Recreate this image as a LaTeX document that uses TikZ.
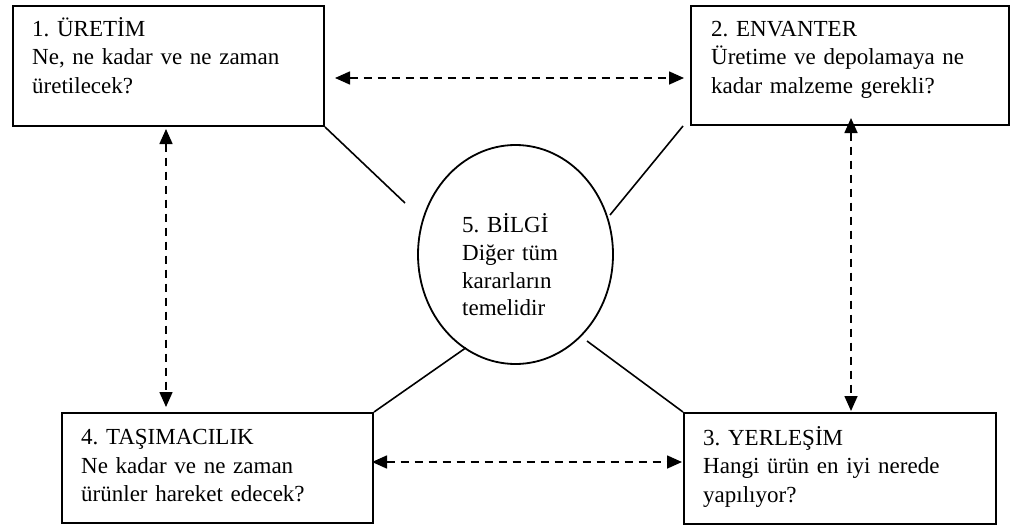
\documentclass[tikz,border=0pt]{standalone}
\usepackage{fontspec}
\setmainfont{Liberation Serif}
\usetikzlibrary{shapes.geometric,arrows.meta}

\begin{document}
\frenchspacing
\begin{tikzpicture}[x=1pt,y=-1pt,
  box/.style={draw, line width=2pt, inner sep=0pt, rectangle, anchor=north west},
  lbl/.style={anchor=north west, inner sep=0pt, align=left, text width=300pt,
              font=\fontsize{23}{28.5}\selectfont\frenchspacing},
  link/.style={line width=1.6pt},
  dbl/.style={line width=1.6pt, dash pattern=on 8pt off 6pt, {Triangle[length=15pt,width=13pt]}-{Triangle[length=15pt,width=13pt]}}
]
\useasboundingbox (0,0) rectangle (1011,525);

% the four decision boxes
\node[box, minimum width=311pt, minimum height=120pt] (b1) at (12,5) {};
\node[box, minimum width=318pt, minimum height=119pt] (b2) at (690,5) {};
\node[box, minimum width=312pt, minimum height=111pt] (b3) at (683,412) {};
\node[box, minimum width=311pt, minimum height=110pt] (b4) at (61,412) {};

\node[lbl] (t1) at (32,16) {\strut 1. ÜRETİM\\Ne, ne kadar ve ne zaman\\üretilecek?};
\node[lbl] (t2) at (711,16) {\strut 2. ENVANTER\\Üretime ve depolamaya ne\\kadar malzeme gerekli?};
\node[lbl] (t3) at (703,425) {\strut 3. YERLEŞİM\\Hangi ürün en iyi nerede\\yapılıyor?};
\node[lbl] (t4) at (81,424.4) {\strut 4. TAŞIMACILIK\\Ne kadar ve ne zaman\\ürünler hareket edecek?};

% central information ellipse
\node[draw, ellipse, line width=1.8pt, inner sep=0pt,
      minimum width=195pt, minimum height=219pt] (bilgi) at (515.5,254.5) {};
\node[lbl, font=\fontsize{23}{27.6}\selectfont\frenchspacing, text width=150pt] (t5) at (462,213.3)
  {\strut 5. BİLGİ\\Diğer tüm\\kararların\\temelidir};

% spokes towards the ellipse
\coordinate (e1) at (405,203);
\coordinate (e2) at (610,215);
\coordinate (e3) at (466,347.7);
\coordinate (e4) at (587,341);
\draw[link] (b1.south east) -- (e1);
\draw[link] ([xshift=-7pt]b2.south west) -- (e2);
\draw[link] (b4.north east) -- (e3);
\draw[link] (b3.north west) -- (e4);

% two-way dashed links between neighbouring boxes
\coordinate (h1a) at (335,78);
\coordinate (h1b) at (684,78);
\coordinate (h2a) at (372,462);
\coordinate (h2b) at (682,462);
\coordinate (v1a) at (166,129);
\coordinate (v1b) at (166,407);
\coordinate (v2a) at (851,118);
\coordinate (v2b) at (851,411);
\draw[dbl] (h1a) -- (h1b);
\draw[dbl] (h2a) -- (h2b);
\draw[dbl] (v1a) -- (v1b);
\draw[dbl] (v2a) -- (v2b);
\end{tikzpicture}
\end{document}
